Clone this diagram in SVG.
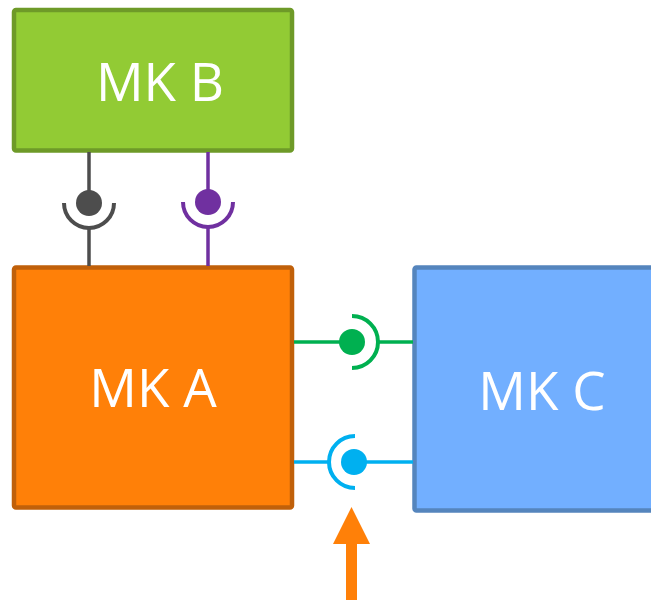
<svg xmlns="http://www.w3.org/2000/svg" width="651" height="600" viewBox="0 0 651 600">
  <style>
    .label { font-family: "Open Sans", "Noto Sans", sans-serif; font-size: 53px; fill: #ffffff; text-anchor: middle; }
    .box { stroke-width: 4.5; }
    .wire { fill: none; stroke-width: 3.5; }
    .socket { fill: none; stroke-width: 4; }
  </style>
  <rect width="651" height="600" fill="#ffffff"/>

  <g id="mk-b">
    <rect class="box" x="14" y="10" width="278" height="140.5" rx="2" fill="#92CB34" stroke="#6E9A28"/>
    <text class="label" x="160" y="101">MK B</text>
  </g>

  <g id="mk-a">
    <rect class="box" x="14" y="267.5" width="278" height="240" rx="2" fill="#FF8008" stroke="#C0600A"/>
    <text class="label" x="153" y="407">MK A</text>
  </g>

  <g id="mk-c">
    <rect class="box" x="414.5" y="267.5" width="260" height="243" rx="2" fill="#72AFFF" stroke="#5585BD"/>
    <text class="label" x="542" y="410">MK C</text>
  </g>

  <g id="connectors">
    <!-- MK B to MK A, gray ball and socket -->
    <g stroke="#4D4D4D">
      <line class="wire" x1="89" y1="152" x2="89" y2="195"/>
      <line class="wire" x1="89" y1="228" x2="89" y2="266"/>
      <circle cx="89" cy="203" r="13" fill="#4D4D4D" stroke="none"/>
      <path class="socket" d="M 64 203 A 25 25 0 0 0 114 203"/>
    </g>
    <!-- MK B to MK A, purple ball and socket -->
    <g stroke="#7030A0">
      <line class="wire" x1="208" y1="152" x2="208" y2="195"/>
      <line class="wire" x1="208" y1="228" x2="208" y2="266"/>
      <circle cx="208" cy="202" r="13" fill="#7030A0" stroke="none"/>
      <path class="socket" d="M 183 202 A 25 25 0 0 0 233 202"/>
    </g>
    <!-- MK A to MK C, green ball and socket -->
    <g stroke="#00B050">
      <line class="wire" x1="294" y1="342" x2="345" y2="342"/>
      <line class="wire" x1="377" y1="342" x2="413" y2="342"/>
      <circle cx="352" cy="342" r="13" fill="#00B050" stroke="none"/>
      <path class="socket" d="M 352 316 A 26 26 0 0 1 352 368"/>
    </g>
    <!-- MK A to MK C, cyan socket and ball -->
    <g stroke="#00B0F0">
      <line class="wire" x1="294" y1="462" x2="329" y2="462"/>
      <line class="wire" x1="360" y1="462" x2="413" y2="462"/>
      <circle cx="354" cy="462" r="13" fill="#00B0F0" stroke="none"/>
      <path class="socket" d="M 355 436 A 26 26 0 0 0 355 488"/>
    </g>
    <!-- external input arrow -->
    <g fill="#FF8008">
      <rect x="346" y="540" width="11" height="60"/>
      <polygon points="351.5,507 333,544 370,544"/>
    </g>
  </g>
</svg>
